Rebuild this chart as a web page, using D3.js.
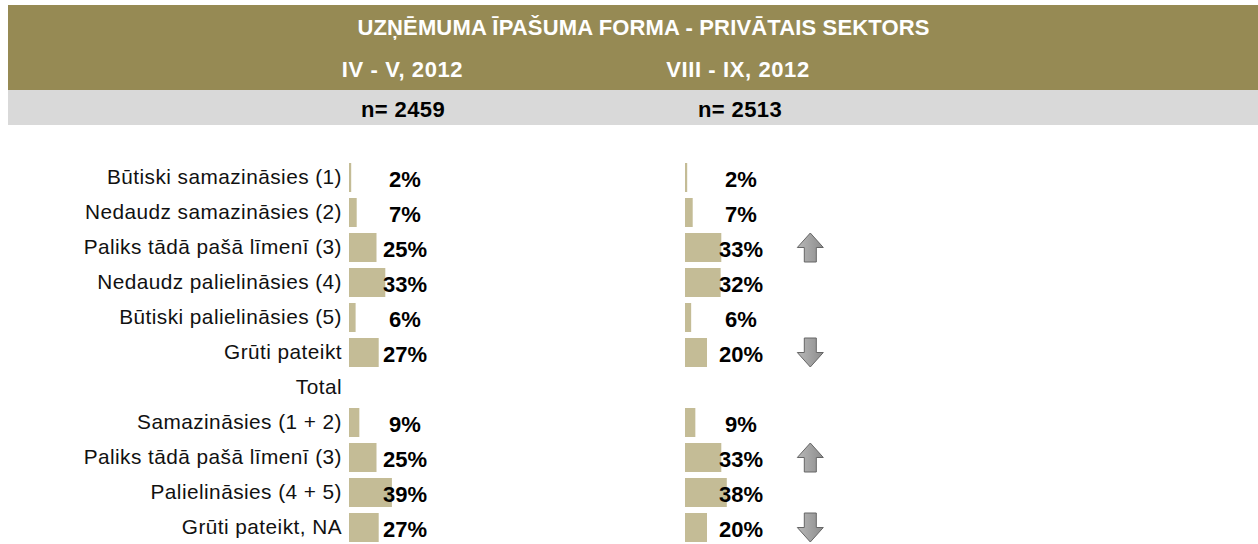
<!DOCTYPE html>
<html>
<head>
<meta charset="utf-8">
<script src="https://cdnjs.cloudflare.com/ajax/libs/d3/7.8.5/d3.min.js"></script>
<style>
html, body { margin: 0; padding: 0; background: white; overflow: hidden; }
text { font-family: "Liberation Sans", Arial, sans-serif; }
</style>
</head>
<body>
<div id="chart"></div>
<script>
const title = "UZŅĒMUMA ĪPAŠUMA FORMA - PRIVĀTAIS SEKTORS";
const waves = ["IV - V, 2012", "VIII - IX, 2012"];
const sampleSizes = ["n= 2459", "n= 2513"];
const categories = [
    "Būtiski samazināsies (1)",
    "Nedaudz samazināsies (2)",
    "Paliks tādā pašā līmenī (3)",
    "Nedaudz palielināsies (4)",
    "Būtiski palielināsies (5)",
    "Grūti pateikt",
    "Total",
    "Samazināsies (1 + 2)",
    "Paliks tādā pašā līmenī (3)",
    "Palielināsies (4 + 5)",
    "Grūti pateikt, NA"
];
// null = no value on that row, labels are rounded to whole percent
const firstWave = [2, 7, 25, 33, 6, 27, null, 9.4, 25, 39, 27];
const secondWave = [2, 7, 33, 32.4, 5.6, 20, null, 9.4, 33, 38, 20];
// 1 = significant rise, -1 = significant fall
const changes = [0, 0, 1, 0, 0, -1, 0, 0, 1, 0, -1];

const width = 1258, height = 544;
const svg = d3.select("#chart").append("svg")
    .attr("width", width)
    .attr("height", height)
    .style("display", "block");

const defs = svg.append("defs");
const grad = defs.append("linearGradient").attr("id", "arrow-fill")
    .attr("x1", 0).attr("x2", 1).attr("y1", 0).attr("y2", 0);
grad.append("stop").attr("offset", "0%").attr("stop-color", "#b8b8b8");
grad.append("stop").attr("offset", "100%").attr("stop-color", "#8c8c8c");

// header bands
svg.append("rect").attr("x", 8).attr("y", 5).attr("width", width - 8).attr("height", 85).style("fill", "#968a54");
svg.append("rect").attr("x", 8).attr("y", 90).attr("width", width - 8).attr("height", 35).style("fill", "#d9d9d9");

svg.append("text")
    .attr("x", 643.5).attr("y", 34.5)
    .attr("text-anchor", "middle")
    .style("font-size", "22px").style("font-weight", "bold").style("fill", "white")
    .style("letter-spacing", "0.15px")
    .text(title);

const columns = [
    {x0: 349, text: 405, head: 402.5, n: 403, values: firstWave},
    {x0: 685, text: 741, head: 738, n: 740, values: secondWave}
];

columns.forEach((c, i) => {
    svg.append("text")
        .attr("x", c.head).attr("y", 77)
        .attr("text-anchor", "middle")
        .style("font-size", "22px").style("font-weight", "bold").style("fill", "white")
        .style("letter-spacing", "0.6px")
        .text(waves[i]);
    svg.append("text")
        .attr("x", c.n).attr("y", 117)
        .attr("text-anchor", "middle")
        .style("font-size", "22px").style("font-weight", "bold").style("fill", "black")
        .style("letter-spacing", "0.4px")
        .text(sampleSizes[i]);
});

const y = d3.scaleBand()
    .domain(d3.range(categories.length))
    .range([163, 542])
    .paddingInner(6 / 35);

const w = d3.scaleLinear().domain([0, 100]).range([0, 110]);

svg.append("g").selectAll("text")
    .data(categories)
    .join("text")
    .attr("x", 342)
    .attr("y", (d, i) => y(i) + y.bandwidth() / 2 + 6.5)
    .attr("text-anchor", "end")
    .style("font-size", "20.8px")
    .style("letter-spacing", "0.45px")
    .style("fill", "#111")
    .text(d => d);

const pct = d3.format(".0f");
columns.forEach(c => {
    const g = svg.append("g");
    const rows = c.values.map((v, i) => ({v, i})).filter(d => d.v !== null);
    g.selectAll("rect")
        .data(rows)
        .join("rect")
        .attr("x", c.x0)
        .attr("y", d => y(d.i))
        .attr("width", d => w(d.v))
        .attr("height", y.bandwidth())
        .style("fill", "#c4bc96");
    g.selectAll("text")
        .data(rows)
        .join("text")
        .attr("x", c.text)
        .attr("y", d => y(d.i) + y.bandwidth() / 2 + 9)
        .attr("text-anchor", "middle")
        .style("font-size", "22px")
        .style("font-weight", "bold")
        .style("fill", "black")
        .text(d => pct(d.v) + "%");
});

// change arrows next to the second wave
const arrowX = 810.3;
const arrowShape = "M0,-14.5 L13,0 L6,0 L6,14.5 L-6,14.5 L-6,0 L-13,0 Z";
svg.append("g").selectAll("path")
    .data(changes.map((v, i) => ({v, i})).filter(d => d.v !== 0))
    .join("path")
    .attr("d", arrowShape)
    .attr("transform", d => `translate(${arrowX},${y(d.i) + y.bandwidth() / 2}) scale(1,${d.v > 0 ? 1 : -1})`)
    .style("fill", "url(#arrow-fill)")
    .style("stroke", "#666")
    .style("stroke-width", 1);
</script>
</body>
</html>
